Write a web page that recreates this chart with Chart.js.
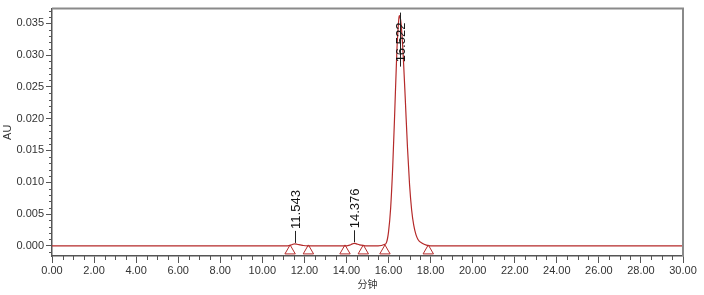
<!DOCTYPE html>
<html>
<head>
<meta charset="utf-8">
<script src="https://cdn.jsdelivr.net/npm/chart.js@4/dist/chart.umd.min.js"></script>
<style>
html,body{margin:0;padding:0;background:#fff;}
#wrap{width:704px;height:295px;position:relative;}
</style>
</head>
<body>
<div id="wrap"><canvas id="c"></canvas></div>
<script>
// Chromatogram trace (minutes, AU)
const times = [0, 2, 4, 6, 8, 10, 11.0, 11.2, 11.35, 11.45, 11.543, 11.65, 11.8, 11.95, 12.15, 13.0, 14.0, 14.15, 14.28, 14.376, 14.48, 14.62, 14.8, 14.95, 15.5,
  15.8, 15.9, 16.0, 16.1, 16.2, 16.3, 16.4, 16.45, 16.5, 16.522, 16.55, 16.6, 16.7, 16.8, 16.9, 17.0, 17.1, 17.2, 17.3, 17.4, 17.6, 17.8, 18.0,
  20, 22, 24, 26, 28, 30];
const absorbance = [0, 0, 0, 0, 0, 0, 0, 0, 0.0001, 0.00025, 0.0003, 0.00025, 0.00015, 0.00005, 0, 0, 0, 0.0001, 0.0003, 0.0004, 0.0003, 0.00015, 0.00005, 0, 0,
  0.0002, 0.0005, 0.0022, 0.0059, 0.0125, 0.0215, 0.0310, 0.0340, 0.0360, 0.0362, 0.0360, 0.0348, 0.0298, 0.0228, 0.0155, 0.0096, 0.0056, 0.0032, 0.0018, 0.0010, 0.0004, 0.0001, 0,
  0, 0, 0, 0, 0, 0];
// Peak annotations
const peakTimes = [11.543, 14.376, 16.522];
const peakHeights = [0.0003, 0.0004, 0.0362];
const peakLabels = ['11.543', '14.376', '16.522'];
// Integration start/end markers (minutes)
const markerTimes = [11.32, 12.19, 13.93, 14.80, 15.83, 17.89];
// Axis ticks
const xTicks = [0, 2, 4, 6, 8, 10, 12, 14, 16, 18, 20, 22, 24, 26, 28, 30];
const yTicks = [0, 0.005, 0.010, 0.015, 0.020, 0.025, 0.030, 0.035];
const xTitle = '分钟';
const yTitle = 'AU';

const RED = '#b52a2a';
const AXIS = '#555555';
const FONT = '"Liberation Sans", Arial, sans-serif';
const markerLevel = -0.0008;

const tracePts = times.map((t, i) => ({x: t, y: absorbance[i]}));
const markerPts = markerTimes.map(t => ({x: t, y: markerLevel}));

const decor = {
  id: 'decor',
  afterDraw(chart) {
    const {ctx, chartArea: a, scales: {x, y}} = chart;
    ctx.save();
    // frame top & right
    ctx.strokeStyle = '#8a8a8a';
    ctx.lineWidth = 2;
    ctx.beginPath();
    ctx.moveTo(a.left, a.top);
    ctx.lineTo(a.right, a.top);
    ctx.lineTo(a.right, a.bottom);
    ctx.stroke();
    // minor ticks
    ctx.strokeStyle = AXIS;
    ctx.lineWidth = 1;
    ctx.beginPath();
    for (let v = 0; v <= 30.001; v += 0.5) {
      if (Math.abs(v / 2 - Math.round(v / 2)) < 1e-6) continue;
      const px = Math.round(x.getPixelForValue(v)) + 0.5;
      ctx.moveTo(px, a.bottom);
      ctx.lineTo(px, a.bottom + 4);
    }
    for (let k = -1; k <= 37; k++) {
      if (k % 5 === 0) continue;
      const v = k * 0.001;
      const py = Math.round(y.getPixelForValue(v)) + 0.5;
      if (py < a.top || py > a.bottom) continue;
      ctx.moveTo(a.left - 3, py);
      ctx.lineTo(a.left, py);
    }
    ctx.stroke();
    // peak labels
    ctx.fillStyle = '#111';
    ctx.font = '13px ' + FONT;
    ctx.strokeStyle = '#222';
    peakTimes.forEach((t, i) => {
      const px = Math.round(x.getPixelForValue(t)) + 0.5;
      const py = y.getPixelForValue(peakHeights[i]);
      const w = ctx.measureText(peakLabels[i]).width;
      let lineTop, lineBot, textEnd;
      if (py - 16 - w < a.top + 8) {
        lineTop = a.top + 4;
        lineBot = a.top + 58;
        textEnd = a.top + 14;
        ctx.beginPath(); ctx.moveTo(px, lineTop); ctx.lineTo(px, lineBot); ctx.stroke();
        ctx.save();
        ctx.translate(px + 1, textEnd);
        ctx.rotate(-Math.PI / 2);
        ctx.textAlign = 'right';
        ctx.textBaseline = 'middle';
        ctx.fillText(peakLabels[i], 0, 0);
        ctx.restore();
      } else {
        lineBot = py - 1;
        lineTop = py - 13;
        ctx.beginPath(); ctx.moveTo(px, lineTop); ctx.lineTo(px, lineBot); ctx.stroke();
        ctx.save();
        ctx.translate(px + 1, lineTop - 2);
        ctx.rotate(-Math.PI / 2);
        ctx.textAlign = 'left';
        ctx.textBaseline = 'middle';
        ctx.fillText(peakLabels[i], 0, 0);
        ctx.restore();
      }
    });
    // axis titles
    ctx.fillStyle = '#333';
    ctx.font = '11px ' + FONT;
    ctx.textAlign = 'center';
    ctx.textBaseline = 'middle';
    ctx.save();
    ctx.translate(8, (a.top + a.bottom) / 2 + 0);
    ctx.rotate(-Math.PI / 2);
    ctx.fillText(yTitle, 0, 0);
    ctx.restore();
    ctx.font = '10px "Noto Sans CJK SC", sans-serif';
    ctx.fillText(xTitle, (a.left + a.right) / 2 + 0, 284);
    ctx.restore();
  }
};

new Chart(document.getElementById('c'), {
  type: 'scatter',
  data: {
    datasets: [
      {
        data: tracePts,
        showLine: true,
        borderColor: RED,
        borderWidth: 1.2,
        pointRadius: 0,
        cubicInterpolationMode: 'monotone',
        order: 2
      },
      {
        data: markerPts,
        showLine: false,
        pointStyle: 'triangle',
        pointRadius: 6,
        pointBorderColor: RED,
        pointBackgroundColor: 'rgba(255,255,255,0)',
        pointBorderWidth: 1,
        order: 1
      }
    ]
  },
  options: {
    responsive: true,
    maintainAspectRatio: false,
    animation: false,
    events: [],
    layout: {padding: {top: 6, right: 21, left: 0, bottom: 0}},
    plugins: {legend: {display: false}, tooltip: {enabled: false}},
    scales: {
      x: {
        type: 'linear',
        min: 0, max: 30,
        afterBuildTicks: s => { s.ticks = xTicks.map(v => ({value: v})); },
        afterFit: s => { s.height = 39; },
        border: {color: AXIS, width: 1.5},
        grid: {drawOnChartArea: false, drawTicks: true, tickLength: 7, color: AXIS},
        ticks: {
          padding: 1,
          color: '#333',
          font: {family: FONT, size: 11},
          maxRotation: 0,
          autoSkip: false,
          callback: v => Number(v).toFixed(2)
        }
      },
      y: {
        type: 'linear',
        min: -0.0016, max: 0.0373,
        afterBuildTicks: s => { s.ticks = yTicks.map(v => ({value: v})); },
        afterFit: s => { s.width = 52; },
        border: {color: AXIS, width: 1.5},
        grid: {drawOnChartArea: false, drawTicks: true, tickLength: 6, color: AXIS},
        ticks: {
          padding: 2,
          color: '#333',
          font: {family: FONT, size: 11},
          autoSkip: false,
          callback: v => Number(v).toFixed(3)
        }
      }
    }
  },
  plugins: [decor]
});
</script>
</body>
</html>
